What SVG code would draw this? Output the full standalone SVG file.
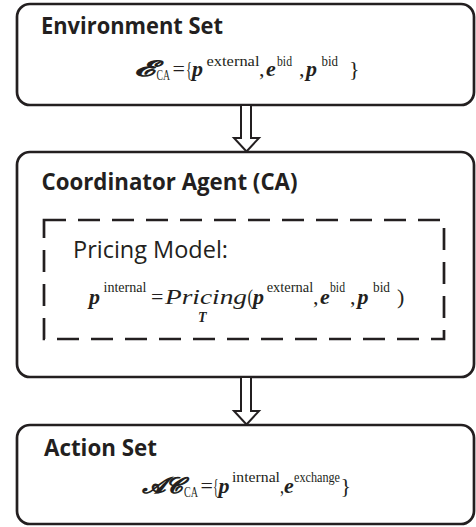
<svg xmlns="http://www.w3.org/2000/svg" width="476" height="527" viewBox="0 0 476 527">
<style>
.box{fill:#fff;stroke:#231f20;stroke-width:2.7}
.dash{fill:none;stroke:#231f20;stroke-width:2.7;stroke-dasharray:22 12}
.arrow{fill:#fff;stroke:#231f20;stroke-width:2}
.title{font-family:"Open Sans","Liberation Sans",sans-serif;font-weight:bold;font-size:23px;fill:#231f20}
.label{font-family:"Open Sans","Liberation Sans",sans-serif;font-size:23px;fill:#231f20}
.f{font-family:"Liberation Serif","DejaVu Serif",serif;font-size:22px;fill:#231f20}
.b{font-weight:bold;font-style:italic}
.i{font-style:italic}
.s{font-size:15px;font-weight:normal;font-style:normal}
.sb{font-size:14px;font-weight:bold;font-style:italic}
.sc{font-family:"DejaVu Serif","DejaVu Sans","Liberation Serif",serif;font-size:22px;font-weight:bold;font-style:italic}
</style>
<g id="environment-set">
<rect class="box" x="17" y="4" width="457" height="101" rx="13"/>
<text class="title" x="41" y="34" textLength="182" lengthAdjust="spacingAndGlyphs">Environment Set</text>
<text class="f" y="76"><tspan class="sc" x="134" y="76" textLength="21" lengthAdjust="spacingAndGlyphs">𝓔</tspan><tspan class="s" x="156.5" y="80" textLength="13.5" lengthAdjust="spacingAndGlyphs">CA</tspan><tspan x="172.5" y="76">=</tspan><tspan x="186" y="76" textLength="6" lengthAdjust="spacingAndGlyphs">{</tspan><tspan class="b" x="192" y="76">p</tspan><tspan class="s" x="206.5" y="66" textLength="53" lengthAdjust="spacingAndGlyphs">external</tspan><tspan x="259" y="76">,</tspan><tspan class="b" x="266" y="76">e</tspan><tspan class="s" x="277" y="66" textLength="15" lengthAdjust="spacingAndGlyphs">bid</tspan><tspan x="299" y="76">,</tspan><tspan class="b" x="306" y="76">p</tspan><tspan class="s" x="321.5" y="66" textLength="16.5" lengthAdjust="spacingAndGlyphs">bid</tspan><tspan x="349" y="76">}</tspan></text>
</g>
<g id="coordinator-agent">
<rect class="box" x="17" y="152" width="457" height="225" rx="13"/>
<text class="title" x="41.5" y="190" textLength="256" lengthAdjust="spacingAndGlyphs">Coordinator Agent (CA)</text>
<g id="pricing-model">
<rect class="dash" x="44" y="220" width="400" height="119"/>
<text class="label" x="73" y="258" textLength="155" lengthAdjust="spacingAndGlyphs">Pricing Model:</text>
<text class="f" y="304"><tspan class="b" x="89" y="304">p</tspan><tspan class="s" x="103.5" y="292" textLength="43" lengthAdjust="spacingAndGlyphs">internal</tspan><tspan x="151" y="304">=</tspan><tspan class="i" x="165" y="304" textLength="82" lengthAdjust="spacingAndGlyphs">Pricing</tspan><tspan class="sb" x="198" y="322">T</tspan><tspan x="247.5" y="304" textLength="5.5" lengthAdjust="spacingAndGlyphs">(</tspan><tspan class="b" x="253" y="304">p</tspan><tspan class="s" x="266.7" y="292" textLength="46.5" lengthAdjust="spacingAndGlyphs">external</tspan><tspan x="313" y="304">,</tspan><tspan class="b" x="320" y="304">e</tspan><tspan class="s" x="330" y="292" textLength="15" lengthAdjust="spacingAndGlyphs">bid</tspan><tspan x="350" y="304">,</tspan><tspan class="b" x="357.5" y="304">p</tspan><tspan class="s" x="373" y="292" textLength="17" lengthAdjust="spacingAndGlyphs">bid</tspan><tspan x="397" y="304">)</tspan></text>
</g>
</g>
<g id="action-set">
<rect class="box" x="17" y="425" width="457" height="99" rx="13"/>
<text class="title" x="44" y="456" textLength="113" lengthAdjust="spacingAndGlyphs">Action Set</text>
<text class="f" y="493"><tspan class="sc" x="142" y="493" textLength="41" lengthAdjust="spacingAndGlyphs">𝓐𝓒</tspan><tspan class="s" x="184" y="497" textLength="14" lengthAdjust="spacingAndGlyphs">CA</tspan><tspan x="200.5" y="493">=</tspan><tspan x="213" y="493" textLength="5.5" lengthAdjust="spacingAndGlyphs">{</tspan><tspan class="b" x="218.5" y="493">p</tspan><tspan class="s" x="232" y="482" textLength="48" lengthAdjust="spacingAndGlyphs">internal</tspan><tspan x="280" y="493" textLength="4" lengthAdjust="spacingAndGlyphs">,</tspan><tspan class="b" x="284" y="493">e</tspan><tspan class="s" x="294" y="482" textLength="46" lengthAdjust="spacingAndGlyphs">exchange</tspan><tspan x="340.5" y="493">}</tspan></text>
</g>
<g id="connectors">
<polygon class="arrow" points="241,105 241,138 234,138 246.5,151.5 259,138 251,138 251,105"/>
<polygon class="arrow" points="241,377 241,411 234,411 246.5,424.5 259,411 251,411 251,377"/>
</g>
</svg>
